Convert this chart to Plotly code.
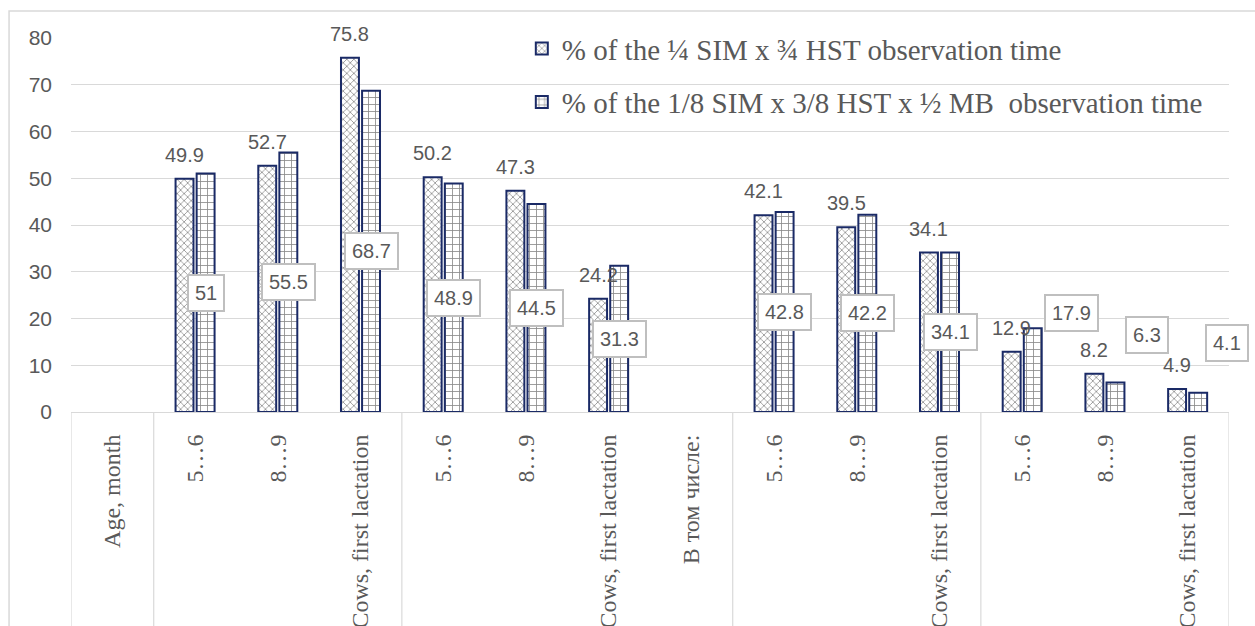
import plotly.graph_objects as go

# Category slots along the x axis (duplicated labels, so numeric positions + ticktext)
categories = [
    "Age, month", "5…6", "8…9", "Cows, first lactation",
    "5…6", "8…9", "Cows, first lactation", "В том числе:",
    "5…6", "8…9", "Cows, first lactation",
    "5…6", "8…9", "Cows, first lactation",
]
# Group boundaries drawn as separators below the axis (slot edges)
group_edges = [0, 1, 4, 8, 11, 14]

series_a_name = "% of the ¼ SIM x ¾ HST observation time"
series_b_name = "% of the 1/8 SIM x 3/8 HST x ½ MB  observation time"
series_a = [None, 49.9, 52.7, 75.8, 50.2, 47.3, 24.2, None, 42.1, 39.5, 34.1, 12.9, 8.2, 4.9]
series_b = [None, 51, 55.5, 68.7, 48.9, 44.5, 31.3, None, 42.8, 42.2, 34.1, 17.9, 6.3, 4.1]

y_ticks = [0, 10, 20, 30, 40, 50, 60, 70, 80]

# Hand-placed boxed labels for the short bars: slot index -> (x shift in slots, label height)
moved_b_labels = {11: (0.6, 21.2), 12: (0.51, 16.5), 13: (0.48, 14.8)}

GRAY_TXT = "#595959"
GRID = "#d9d9d9"
NAVY = "#1A2A66"
BARGAP = 0.49
SANS = "Liberation Sans, Arial, sans-serif"
SERIF = "Liberation Serif, Times New Roman, serif"

xs = list(range(len(categories)))

fig = go.Figure()
fig.add_trace(go.Bar(
    x=xs, y=series_a, name=series_a_name, legendgroup="a",
    marker=dict(color="white", line=dict(color=NAVY, width=2),
                pattern=dict(shape="x", fgcolor="#222222", bgcolor="white",
                             size=5, solidity=0.3)),
))
fig.add_trace(go.Bar(
    x=xs, y=series_b, name=series_b_name, legendgroup="b",
    marker=dict(color="white", line=dict(color=NAVY, width=2),
                pattern=dict(shape="+", fgcolor="#111111", bgcolor="white",
                             size=7, solidity=0.22)),
))

bar_off = (1 - BARGAP) / 4
annotations = []
for i, v in enumerate(series_a):
    if v is None:
        continue
    annotations.append(dict(
        x=i - bar_off, y=v, xref="x", yref="y", text=f"{v:g}", showarrow=False,
        yanchor="middle", yshift=24, font=dict(family=SANS, size=20, color=GRAY_TXT)))
for i, v in enumerate(series_b):
    if v is None:
        continue
    dx, ly = moved_b_labels.get(i, (bar_off, v / 2))
    annotations.append(dict(
        x=i + dx, y=ly, xref="x", yref="y", text=f"{v:g}", showarrow=False,
        yanchor="middle", bgcolor="white", bordercolor="#bfbfbf", borderwidth=2,
        borderpad=6, font=dict(family=SANS, size=20, color=GRAY_TXT)))

shapes = []
for e in group_edges:
    shapes.append(dict(type="line", xref="x", yref="paper", x0=e - 0.5, x1=e - 0.5,
                       y0=0, y1=-0.7, line=dict(color=GRID, width=1.2)))
# outer chart frame
shapes.append(dict(type="rect", xref="paper", yref="paper", x0=-0.0535, x1=1.5,
                   y0=-1.0, y1=1.072, line=dict(color=GRID, width=1.5)))

fig.update_layout(
    width=1255, height=626,
    margin=dict(l=71, r=26, t=38, b=214),
    paper_bgcolor="white", plot_bgcolor="white",
    barmode="group", bargap=BARGAP, bargroupgap=0.15,
    showlegend=True,
    legend=dict(x=0.3893, y=1.040, xanchor="left", yanchor="top",
                bgcolor="rgba(0,0,0,0)", font=dict(family=SERIF, size=29, color=GRAY_TXT),
                tracegroupgap=13, traceorder="grouped"),
    annotations=annotations,
    shapes=shapes,
    xaxis=dict(tickmode="array", tickvals=xs, ticktext=categories, tickangle=-90,
               range=[-0.5, len(categories) - 0.5], showgrid=False, zeroline=False,
               showline=True, linecolor=GRID, linewidth=1, ticks="",
               ticklabelstandoff=12, automargin=False,
               tickfont=dict(family=SERIF, size=24, color=GRAY_TXT)),
    yaxis=dict(range=[0, 80], tickvals=y_ticks, showgrid=True, gridcolor=GRID,
               gridwidth=1, zeroline=False, showline=False, ticks="",
               ticklabelstandoff=18, automargin=False,
               tickfont=dict(family=SANS, size=21, color=GRAY_TXT)),
)

fig.write_html("out.html")
